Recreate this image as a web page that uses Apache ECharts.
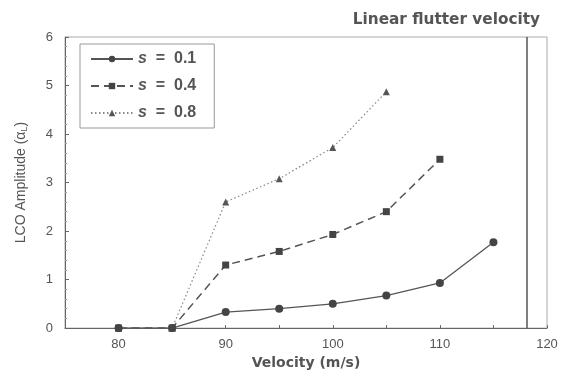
<!DOCTYPE html>
<html>
<head>
<meta charset="utf-8">
<script src="https://cdn.jsdelivr.net/npm/echarts@6/dist/echarts.min.js"></script>
<style>
  html, body { margin: 0; padding: 0; background: #fff; }
  #chart { width: 562px; height: 375px; }
</style>
</head>
<body>
<div id="chart"></div>
<script>
// velocity (m/s)
const velocity = [80, 85, 90, 95, 100, 105, 110, 115]
// LCO amplitude for each s
const amp01 = [0, 0, 0.33, 0.4, 0.5, 0.67, 0.93, 1.77]
const amp04 = [0, 0, 1.3, 1.58, 1.93, 2.4, 3.48]
const amp08 = [0, 0, 2.6, 3.08, 3.72, 4.87]
const seriesNames = ['s = 0.1', 's = 0.4', 's = 0.8']
const flutterVelocity = 118.1

const pairs = (vals) => vals.map((v, i) => [velocity[i], v])

const chart = echarts.init(document.getElementById('chart'))

const axisGray = '#666'
const font = 'Liberation Sans, Arial, sans-serif'

const option = {
  backgroundColor: '#fff',
  animation: false,
  title: {
    text: 'Linear flutter velocity',
    right: 17,
    top: 8,
    textStyle: { fontFamily: 'DejaVu Sans', fontSize: 15.3, fontWeight: 'bold', color: '#555' }
  },
  grid: {
    left: 65, right: 15, top: 37, bottom: 45,
    show: true, borderColor: '#aaa', borderWidth: 1
  },
  legend: {
    orient: 'vertical',
    left: 80, top: 44,
    data: seriesNames,
    itemWidth: 42, itemHeight: 8, itemGap: 11,
    padding: [7, 18, 7, 10],
    borderColor: '#999', borderWidth: 1,
    formatter: (name) => '{i|s}{t|' + name.slice(1).replace(/ /g, '  ') + '}',
    textStyle: {
      rich: {
        i: { fontFamily: font, fontSize: 16, fontStyle: 'italic', fontWeight: 'bold', color: '#555' },
        t: { fontFamily: font, fontSize: 16, fontWeight: 'bold', color: '#555' }
      }
    }
  },
  xAxis: {
    type: 'value',
    min: 75, max: 120, interval: 5,
    name: 'Velocity (m/s)',
    nameLocation: 'middle',
    nameGap: 25,
    nameTextStyle: { fontFamily: 'DejaVu Sans', fontSize: 14, fontWeight: 'bold', color: '#555' },
    axisLine: { lineStyle: { color: axisGray } },
    axisTick: { inside: true, length: 3, lineStyle: { color: axisGray } },
    minorTick: { show: false },
    splitLine: { show: false },
    axisLabel: {
      fontFamily: font, fontSize: 13, color: '#555', margin: 10,
      formatter: (v) => (v % 10 === 0 ? String(v) : '')
    }
  },
  yAxis: {
    type: 'value',
    min: 0, max: 6, interval: 1,
    name: '{a|LCO Amplitude (}{g|α}{s|L}{a|)}',
    nameLocation: 'middle',
    nameGap: 36,
    nameRotate: 90,
    nameTextStyle: {
      rich: {
        a: { fontFamily: font, fontSize: 14, color: '#555' },
        g: { fontFamily: font, fontSize: 14, color: '#555' },
        s: { fontFamily: font, fontSize: 9, color: '#555', verticalAlign: 'bottom', padding: [6, 0, 0, 0] }
      }
    },
    axisLine: { show: true, lineStyle: { color: axisGray } },
    axisTick: { show: true, inside: true, length: 4, lineStyle: { color: axisGray } },
    minorTick: { show: true, splitNumber: 5, length: 2, lineStyle: { color: '#999' } },
    splitLine: { show: false },
    axisLabel: { fontFamily: font, fontSize: 13, color: '#555', margin: 12 }
  },
  series: [
    {
      name: seriesNames[0],
      type: 'line',
      data: pairs(amp01),
      symbol: 'circle', symbolSize: 8,
      itemStyle: { color: '#444' },
      lineStyle: { color: '#555', width: 1.3, type: 'solid' },
      markLine: {
        silent: true,
        symbol: 'none',
        label: { show: false },
        lineStyle: { color: '#555', width: 1.5, type: 'solid' },
        data: [{ xAxis: flutterVelocity }]
      },
      z: 3
    },
    {
      name: seriesNames[1],
      type: 'line',
      data: pairs(amp04),
      symbol: 'rect', symbolSize: 7,
      itemStyle: { color: '#444' },
      lineStyle: { color: '#555', width: 1.5, type: [8, 5] },
      z: 2
    },
    {
      name: seriesNames[2],
      type: 'line',
      data: pairs(amp08),
      symbol: 'triangle', symbolSize: 7,
      itemStyle: { color: '#555' },
      lineStyle: { color: '#888', width: 1.2, type: [1.5, 2.5] },
      z: 1
    }
  ]
}

chart.setOption(option)
</script>
</body>
</html>
